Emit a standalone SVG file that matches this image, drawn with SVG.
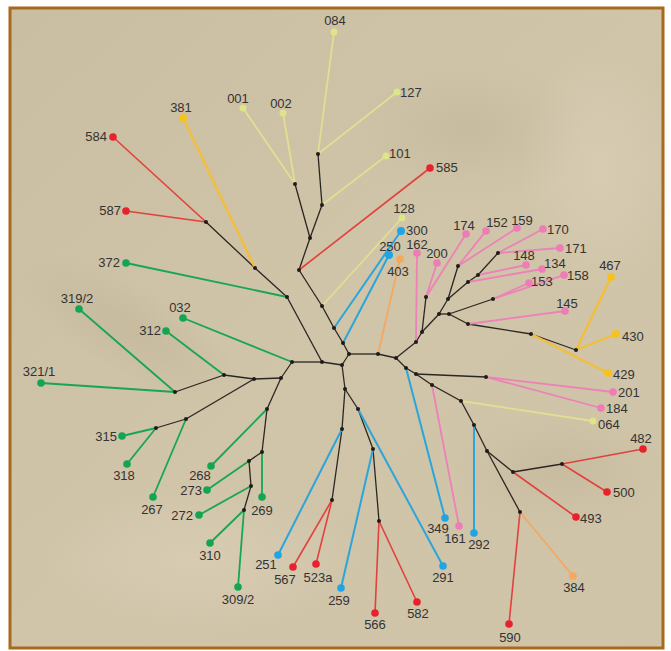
<svg xmlns="http://www.w3.org/2000/svg" width="671" height="651" viewBox="0 0 671 651">
<defs>
<linearGradient id="bg" x1="0" y1="0" x2="1" y2="1">
<stop offset="0" stop-color="#c9bda2"/>
<stop offset="0.5" stop-color="#d0c4a9"/>
<stop offset="1" stop-color="#cfc3a8"/>
</linearGradient>
<radialGradient id="shade" cx="0.5" cy="0.5" r="0.5">
<stop offset="0" stop-color="#b5a88c" stop-opacity="0.3"/>
<stop offset="1" stop-color="#b5a88c" stop-opacity="0"/>
</radialGradient>
<radialGradient id="light" cx="0.5" cy="0.5" r="0.5">
<stop offset="0" stop-color="#ddd2ba" stop-opacity="0.6"/>
<stop offset="1" stop-color="#ddd2ba" stop-opacity="0"/>
</radialGradient>
</defs>
<style>
.t{font-family:"Liberation Sans",Arial,sans-serif;font-size:13px;fill:#333}
.m{text-anchor:middle}
.e{text-anchor:end}
.k{stroke:#2a2622;stroke-width:1.3;fill:none}
.py{stroke:#e2df92;stroke-width:1.8}
.gd{stroke:#f3bf3a;stroke-width:2.4}
.rd{stroke:#e2413c;stroke-width:1.6}
.or{stroke:#f4a862;stroke-width:1.8}
.bl{stroke:#2aa6dc;stroke-width:2}
.pk{stroke:#ec82b8;stroke-width:1.8}
.gn{stroke:#17a652;stroke-width:1.8}
.in{fill:#1e1b18}
.cpy{fill:#dde48a}
.cgd{fill:#f6c21e}
.crd{fill:#e8222c}
.cor{fill:#f6a85e}
.cbl{fill:#1ea5e4}
.cpk{fill:#ee7cb6}
.cgn{fill:#12a650}
</style>
<rect x="0" y="0" width="671" height="651" fill="#ffffff"/>
<rect x="10" y="8" width="653" height="640" fill="url(#bg)"/>
<ellipse cx="130" cy="330" rx="130" ry="45" fill="url(#shade)" transform="rotate(30 130 330)"/>
<ellipse cx="470" cy="130" rx="120" ry="70" fill="url(#shade)"/>
<ellipse cx="560" cy="470" rx="110" ry="60" fill="url(#shade)"/>
<ellipse cx="200" cy="560" rx="160" ry="70" fill="url(#light)"/>
<ellipse cx="600" cy="170" rx="80" ry="120" fill="url(#light)"/>
<rect x="10" y="8" width="653" height="640" fill="none" stroke="#a8691e" stroke-width="3"/>

<g id="connectors">
<g class="k">
<line x1="318" y1="154" x2="322" y2="205"/>
<line x1="295" y1="184" x2="310" y2="238"/>
<line x1="322" y1="205" x2="310" y2="238"/>
<line x1="310" y1="238" x2="299" y2="270"/>
<line x1="299" y1="270" x2="322" y2="306"/>
<line x1="322" y1="306" x2="334" y2="328"/>
<line x1="334" y1="328" x2="343" y2="343"/>
<line x1="343" y1="343" x2="349" y2="354"/>
<line x1="349" y1="354" x2="342" y2="365"/>
<line x1="349" y1="354" x2="378" y2="354"/>
<line x1="378" y1="354" x2="396" y2="358"/>
<line x1="206" y1="222" x2="255" y2="268"/>
<line x1="255" y1="268" x2="287" y2="297"/>
<line x1="287" y1="297" x2="322" y2="362"/>
<line x1="292" y1="362" x2="322" y2="362"/>
<line x1="322" y1="362" x2="342" y2="365"/>
<line x1="292" y1="362" x2="281" y2="378"/>
<line x1="281" y1="378" x2="254" y2="379"/>
<line x1="254" y1="379" x2="224" y2="375"/>
<line x1="224" y1="375" x2="175" y2="392"/>
<line x1="254" y1="379" x2="186" y2="419"/>
<line x1="186" y1="419" x2="156" y2="428"/>
<line x1="281" y1="378" x2="267" y2="409"/>
<line x1="267" y1="409" x2="262" y2="452"/>
<line x1="262" y1="452" x2="249" y2="461"/>
<line x1="249" y1="461" x2="251" y2="486"/>
<line x1="251" y1="486" x2="244" y2="510"/>
<line x1="342" y1="365" x2="345" y2="389"/>
<line x1="345" y1="389" x2="358" y2="409"/>
<line x1="358" y1="409" x2="373" y2="449"/>
<line x1="373" y1="449" x2="379" y2="521"/>
<line x1="345" y1="389" x2="342" y2="429"/>
<line x1="342" y1="429" x2="332" y2="500"/>
<line x1="396" y1="358" x2="416" y2="342"/>
<line x1="416" y1="342" x2="422" y2="332"/>
<line x1="422" y1="332" x2="426" y2="297"/>
<line x1="422" y1="332" x2="439" y2="314"/>
<line x1="439" y1="314" x2="449" y2="314"/>
<line x1="449" y1="314" x2="493" y2="299"/>
<line x1="449" y1="314" x2="468" y2="324"/>
<line x1="468" y1="324" x2="531" y2="334"/>
<line x1="531" y1="334" x2="576" y2="350"/>
<line x1="439" y1="314" x2="448" y2="299"/>
<line x1="448" y1="299" x2="458" y2="266"/>
<line x1="448" y1="299" x2="468" y2="282"/>
<line x1="468" y1="282" x2="478" y2="275"/>
<line x1="478" y1="275" x2="498" y2="253"/>
<line x1="396" y1="358" x2="406" y2="368"/>
<line x1="406" y1="368" x2="416" y2="374"/>
<line x1="416" y1="374" x2="486" y2="377"/>
<line x1="416" y1="374" x2="432" y2="385"/>
<line x1="432" y1="385" x2="461" y2="401"/>
<line x1="461" y1="401" x2="474" y2="425"/>
<line x1="474" y1="425" x2="487" y2="451"/>
<line x1="487" y1="451" x2="513" y2="472"/>
<line x1="513" y1="472" x2="562" y2="464"/>
<line x1="487" y1="451" x2="520" y2="512"/>
</g>
<g class="py">
<line x1="334" y1="32" x2="318" y2="154"/>
<line x1="397" y1="92" x2="318" y2="154"/>
<line x1="243" y1="108" x2="295" y2="184"/>
<line x1="283" y1="113" x2="295" y2="184"/>
<line x1="386" y1="156" x2="322" y2="205"/>
<line x1="402" y1="218" x2="322" y2="306"/>
<line x1="593" y1="421" x2="461" y2="401"/>
</g>
<g class="gd">
<line x1="183" y1="118" x2="255" y2="268"/>
<line x1="611" y1="277" x2="576" y2="350"/>
<line x1="616" y1="334" x2="576" y2="350"/>
<line x1="608" y1="373" x2="531" y2="334"/>
</g>
<g class="rd">
<line x1="113" y1="137" x2="206" y2="222"/>
<line x1="126" y1="211" x2="206" y2="222"/>
<line x1="430" y1="168" x2="299" y2="270"/>
<line x1="293" y1="567" x2="332" y2="500"/>
<line x1="316" y1="564" x2="332" y2="500"/>
<line x1="375" y1="613" x2="379" y2="521"/>
<line x1="417" y1="602" x2="379" y2="521"/>
<line x1="643" y1="449" x2="562" y2="464"/>
<line x1="607" y1="492" x2="562" y2="464"/>
<line x1="576" y1="517" x2="513" y2="472"/>
<line x1="509" y1="624" x2="520" y2="512"/>
</g>
<g class="or">
<line x1="400" y1="259" x2="378" y2="354"/>
<line x1="573" y1="576" x2="520" y2="512"/>
</g>
<g class="bl">
<line x1="401" y1="231" x2="334" y2="328"/>
<line x1="389" y1="255" x2="343" y2="343"/>
<line x1="278" y1="555" x2="342" y2="429"/>
<line x1="341" y1="588" x2="373" y2="449"/>
<line x1="443" y1="566" x2="358" y2="409"/>
<line x1="445" y1="518" x2="406" y2="368"/>
<line x1="474" y1="533" x2="474" y2="425"/>
</g>
<g class="pk">
<line x1="417" y1="253" x2="416" y2="342"/>
<line x1="437" y1="263" x2="426" y2="297"/>
<line x1="466" y1="234" x2="426" y2="297"/>
<line x1="486" y1="231" x2="458" y2="266"/>
<line x1="517" y1="228" x2="458" y2="266"/>
<line x1="543" y1="229" x2="498" y2="253"/>
<line x1="560" y1="248" x2="498" y2="253"/>
<line x1="526" y1="265" x2="478" y2="275"/>
<line x1="542" y1="269" x2="468" y2="282"/>
<line x1="529" y1="283" x2="493" y2="299"/>
<line x1="564" y1="275" x2="493" y2="299"/>
<line x1="565" y1="311" x2="468" y2="324"/>
<line x1="613" y1="392" x2="486" y2="377"/>
<line x1="601" y1="408" x2="486" y2="377"/>
<line x1="459" y1="526" x2="432" y2="385"/>
</g>
<g class="gn">
<line x1="126" y1="263" x2="287" y2="297"/>
<line x1="79" y1="309" x2="175" y2="392"/>
<line x1="41" y1="383" x2="175" y2="392"/>
<line x1="166" y1="331" x2="224" y2="375"/>
<line x1="183" y1="318" x2="292" y2="362"/>
<line x1="122" y1="436" x2="156" y2="428"/>
<line x1="127" y1="464" x2="156" y2="428"/>
<line x1="153" y1="497" x2="186" y2="419"/>
<line x1="211" y1="466" x2="267" y2="409"/>
<line x1="262" y1="497" x2="262" y2="452"/>
<line x1="207" y1="490" x2="249" y2="461"/>
<line x1="199" y1="515" x2="251" y2="486"/>
<line x1="210" y1="543" x2="244" y2="510"/>
<line x1="238" y1="587" x2="244" y2="510"/>
</g>
</g>

<g id="internal-nodes" class="in">
<g id="i1"><circle cx="318" cy="154" r="2"/></g>
<g id="i2"><circle cx="295" cy="184" r="2"/></g>
<g id="i3"><circle cx="322" cy="205" r="2"/></g>
<g id="i4"><circle cx="310" cy="238" r="2"/></g>
<g id="i5"><circle cx="299" cy="270" r="2"/></g>
<g id="i6"><circle cx="322" cy="306" r="2"/></g>
<g id="i7"><circle cx="334" cy="328" r="2"/></g>
<g id="i8"><circle cx="343" cy="343" r="2"/></g>
<g id="i9"><circle cx="349" cy="354" r="2"/></g>
<g id="i10"><circle cx="342" cy="365" r="2"/></g>
<g id="i11"><circle cx="378" cy="354" r="2"/></g>
<g id="i12"><circle cx="396" cy="358" r="2"/></g>
<g id="i13"><circle cx="206" cy="222" r="2"/></g>
<g id="i14"><circle cx="255" cy="268" r="2"/></g>
<g id="i15"><circle cx="287" cy="297" r="2"/></g>
<g id="i16"><circle cx="322" cy="362" r="2"/></g>
<g id="i17"><circle cx="292" cy="362" r="2"/></g>
<g id="i18"><circle cx="281" cy="378" r="2"/></g>
<g id="i19"><circle cx="254" cy="379" r="2"/></g>
<g id="i20"><circle cx="224" cy="375" r="2"/></g>
<g id="i21"><circle cx="175" cy="392" r="2"/></g>
<g id="i22"><circle cx="186" cy="419" r="2"/></g>
<g id="i23"><circle cx="156" cy="428" r="2"/></g>
<g id="i24"><circle cx="267" cy="409" r="2"/></g>
<g id="i25"><circle cx="262" cy="452" r="2"/></g>
<g id="i26"><circle cx="249" cy="461" r="2"/></g>
<g id="i27"><circle cx="251" cy="486" r="2"/></g>
<g id="i28"><circle cx="244" cy="510" r="2"/></g>
<g id="i29"><circle cx="345" cy="389" r="2"/></g>
<g id="i30"><circle cx="358" cy="409" r="2"/></g>
<g id="i31"><circle cx="373" cy="449" r="2"/></g>
<g id="i32"><circle cx="379" cy="521" r="2"/></g>
<g id="i33"><circle cx="342" cy="429" r="2"/></g>
<g id="i34"><circle cx="332" cy="500" r="2"/></g>
<g id="i35"><circle cx="416" cy="342" r="2"/></g>
<g id="i36"><circle cx="422" cy="332" r="2"/></g>
<g id="i37"><circle cx="426" cy="297" r="2"/></g>
<g id="i38"><circle cx="439" cy="314" r="2"/></g>
<g id="i39"><circle cx="449" cy="314" r="2"/></g>
<g id="i40"><circle cx="493" cy="299" r="2"/></g>
<g id="i41"><circle cx="468" cy="324" r="2"/></g>
<g id="i42"><circle cx="531" cy="334" r="2"/></g>
<g id="i43"><circle cx="576" cy="350" r="2"/></g>
<g id="i44"><circle cx="448" cy="299" r="2"/></g>
<g id="i45"><circle cx="458" cy="266" r="2"/></g>
<g id="i46"><circle cx="468" cy="282" r="2"/></g>
<g id="i47"><circle cx="478" cy="275" r="2"/></g>
<g id="i48"><circle cx="498" cy="253" r="2"/></g>
<g id="i49"><circle cx="406" cy="368" r="2"/></g>
<g id="i50"><circle cx="416" cy="374" r="2"/></g>
<g id="i51"><circle cx="486" cy="377" r="2"/></g>
<g id="i52"><circle cx="432" cy="385" r="2"/></g>
<g id="i53"><circle cx="461" cy="401" r="2"/></g>
<g id="i54"><circle cx="474" cy="425" r="2"/></g>
<g id="i55"><circle cx="487" cy="451" r="2"/></g>
<g id="i56"><circle cx="513" cy="472" r="2"/></g>
<g id="i57"><circle cx="562" cy="464" r="2"/></g>
<g id="i58"><circle cx="520" cy="512" r="2"/></g>
</g>

<g id="leaves">
<g id="n084"><circle class="cpy" cx="334" cy="32" r="3.5"/><text class="t m" x="335" y="25">084</text></g>
<g id="n127"><circle class="cpy" cx="397" cy="92" r="3.5"/><text class="t" x="400" y="97">127</text></g>
<g id="n001"><circle class="cpy" cx="243" cy="108" r="3.5"/><text class="t m" x="238" y="103">001</text></g>
<g id="n002"><circle class="cpy" cx="283" cy="113" r="3.5"/><text class="t m" x="281" y="108">002</text></g>
<g id="n101"><circle class="cpy" cx="386" cy="156" r="3.5"/><text class="t" x="389" y="158">101</text></g>
<g id="n128"><circle class="cpy" cx="402" cy="218" r="3.5"/><text class="t m" x="404" y="213">128</text></g>
<g id="n064"><circle class="cpy" cx="593" cy="421" r="3.5"/><text class="t" x="598" y="429">064</text></g>
<g id="n381"><circle class="cgd" cx="183" cy="118" r="4"/><text class="t m" x="181" y="112">381</text></g>
<g id="n467"><circle class="cgd" cx="611" cy="277" r="4"/><text class="t m" x="610" y="270">467</text></g>
<g id="n430"><circle class="cgd" cx="616" cy="334" r="4"/><text class="t" x="622" y="341">430</text></g>
<g id="n429"><circle class="cgd" cx="608" cy="373" r="4"/><text class="t" x="613" y="379">429</text></g>
<g id="n584"><circle class="crd" cx="113" cy="137" r="3.8"/><text class="t e" x="107" y="141">584</text></g>
<g id="n587"><circle class="crd" cx="126" cy="211" r="3.8"/><text class="t e" x="121" y="215">587</text></g>
<g id="n585"><circle class="crd" cx="430" cy="168" r="3.8"/><text class="t" x="436" y="172">585</text></g>
<g id="n567"><circle class="crd" cx="293" cy="567" r="3.8"/><text class="t m" x="285" y="584">567</text></g>
<g id="n523a"><circle class="crd" cx="316" cy="564" r="3.8"/><text class="t m" x="318" y="582">523a</text></g>
<g id="n566"><circle class="crd" cx="375" cy="613" r="3.8"/><text class="t m" x="375" y="629">566</text></g>
<g id="n582"><circle class="crd" cx="417" cy="602" r="3.8"/><text class="t m" x="418" y="618">582</text></g>
<g id="n482"><circle class="crd" cx="643" cy="449" r="3.8"/><text class="t m" x="641" y="443">482</text></g>
<g id="n500"><circle class="crd" cx="607" cy="492" r="3.8"/><text class="t" x="613" y="497">500</text></g>
<g id="n493"><circle class="crd" cx="576" cy="517" r="3.8"/><text class="t" x="580" y="523">493</text></g>
<g id="n590"><circle class="crd" cx="509" cy="624" r="3.8"/><text class="t m" x="510" y="642">590</text></g>
<g id="n403"><circle class="cor" cx="400" cy="259" r="3.8"/><text class="t m" x="398" y="276">403</text></g>
<g id="n384"><circle class="cor" cx="573" cy="576" r="3.8"/><text class="t m" x="574" y="592">384</text></g>
<g id="n300"><circle class="cbl" cx="401" cy="231" r="4"/><text class="t" x="406" y="235">300</text></g>
<g id="n250"><circle class="cbl" cx="389" cy="255" r="4"/><text class="t m" x="390" y="251">250</text></g>
<g id="n251"><circle class="cbl" cx="278" cy="555" r="3.8"/><text class="t m" x="266" y="569">251</text></g>
<g id="n259"><circle class="cbl" cx="341" cy="588" r="3.8"/><text class="t m" x="339" y="605">259</text></g>
<g id="n291"><circle class="cbl" cx="443" cy="566" r="3.8"/><text class="t m" x="443" y="582">291</text></g>
<g id="n349"><circle class="cbl" cx="445" cy="518" r="3.8"/><text class="t m" x="438" y="533">349</text></g>
<g id="n292"><circle class="cbl" cx="474" cy="533" r="3.8"/><text class="t m" x="479" y="549">292</text></g>
<g id="n162"><circle class="cpk" cx="417" cy="253" r="3.8"/><text class="t m" x="417" y="249">162</text></g>
<g id="n200"><circle class="cpk" cx="437" cy="263" r="3.8"/><text class="t m" x="437" y="258">200</text></g>
<g id="n174"><circle class="cpk" cx="466" cy="234" r="3.8"/><text class="t m" x="464" y="230">174</text></g>
<g id="n152"><circle class="cpk" cx="486" cy="231" r="3.8"/><text class="t m" x="497" y="227">152</text></g>
<g id="n159"><circle class="cpk" cx="517" cy="228" r="3.8"/><text class="t m" x="522" y="225">159</text></g>
<g id="n170"><circle class="cpk" cx="543" cy="229" r="3.8"/><text class="t" x="547" y="234">170</text></g>
<g id="n171"><circle class="cpk" cx="560" cy="248" r="3.8"/><text class="t" x="565" y="253">171</text></g>
<g id="n148"><circle class="cpk" cx="526" cy="265" r="3.8"/><text class="t m" x="524" y="260">148</text></g>
<g id="n134"><circle class="cpk" cx="542" cy="269" r="3.8"/><text class="t" x="544" y="268">134</text></g>
<g id="n153"><circle class="cpk" cx="529" cy="283" r="3.8"/><text class="t" x="531" y="286">153</text></g>
<g id="n158"><circle class="cpk" cx="564" cy="275" r="3.8"/><text class="t" x="567" y="280">158</text></g>
<g id="n145"><circle class="cpk" cx="565" cy="311" r="3.8"/><text class="t m" x="567" y="308">145</text></g>
<g id="n201"><circle class="cpk" cx="613" cy="392" r="3.8"/><text class="t" x="618" y="397">201</text></g>
<g id="n184"><circle class="cpk" cx="601" cy="408" r="3.8"/><text class="t" x="606" y="413">184</text></g>
<g id="n161"><circle class="cpk" cx="459" cy="526" r="3.8"/><text class="t m" x="455" y="543">161</text></g>
<g id="n372"><circle class="cgn" cx="126" cy="263" r="3.8"/><text class="t e" x="120" y="267">372</text></g>
<g id="n319-2"><circle class="cgn" cx="79" cy="309" r="3.8"/><text class="t m" x="77" y="303">319/2</text></g>
<g id="n321-1"><circle class="cgn" cx="41" cy="383" r="3.8"/><text class="t m" x="39" y="376">321/1</text></g>
<g id="n312"><circle class="cgn" cx="166" cy="331" r="3.8"/><text class="t e" x="161" y="335">312</text></g>
<g id="n032"><circle class="cgn" cx="183" cy="318" r="3.8"/><text class="t m" x="180" y="312">032</text></g>
<g id="n315"><circle class="cgn" cx="122" cy="436" r="3.8"/><text class="t e" x="117" y="441">315</text></g>
<g id="n318"><circle class="cgn" cx="127" cy="464" r="3.8"/><text class="t m" x="124" y="480">318</text></g>
<g id="n267"><circle class="cgn" cx="153" cy="497" r="3.8"/><text class="t m" x="152" y="514">267</text></g>
<g id="n268"><circle class="cgn" cx="211" cy="466" r="3.8"/><text class="t m" x="200" y="480">268</text></g>
<g id="n269"><circle class="cgn" cx="262" cy="497" r="3.8"/><text class="t m" x="262" y="515">269</text></g>
<g id="n273"><circle class="cgn" cx="207" cy="490" r="3.8"/><text class="t e" x="202" y="495">273</text></g>
<g id="n272"><circle class="cgn" cx="199" cy="515" r="3.8"/><text class="t e" x="193" y="520">272</text></g>
<g id="n310"><circle class="cgn" cx="210" cy="543" r="3.8"/><text class="t m" x="210" y="560">310</text></g>
<g id="n309-2"><circle class="cgn" cx="238" cy="587" r="3.8"/><text class="t m" x="238" y="604">309/2</text></g>
</g>
</svg>
